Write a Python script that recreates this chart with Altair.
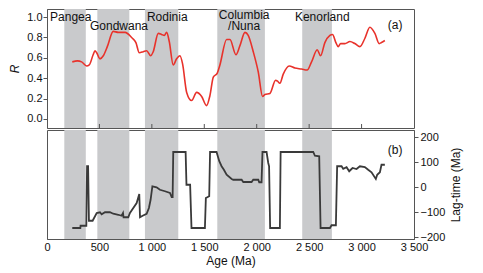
import altair as alt
import pandas as pd

# Supercontinent bands (Ma)
band_names = ["Pangea", "Gondwana", "Rodinia", "Columbia/Nuna", "Kenorland"]
band_start = [165, 480, 934, 1624, 2434]
band_end = [370, 785, 1252, 2078, 2717]

# Panel (a): R
r_age = [241, 290, 330, 378, 403, 440, 458, 474, 505, 537, 575, 632, 680, 744, 807, 848, 880, 918,
         950, 988, 1013, 1061, 1093, 1119, 1141, 1166, 1204, 1236, 1268, 1293, 1332, 1379, 1427,
         1475, 1522, 1554, 1586, 1624, 1649, 1713, 1745, 1802, 1840, 1888, 1919, 1967, 2015, 2056,
         2078, 2126, 2180, 2199, 2221, 2253, 2310, 2364, 2428, 2481, 2523, 2577, 2609, 2650, 2698,
         2723, 2755, 2777, 2800, 2841, 2889, 2936, 2984, 3031, 3079, 3127, 3168, 3190, 3222]
r_val = [0.56, 0.57, 0.56, 0.52, 0.53, 0.63, 0.67, 0.65, 0.59, 0.62, 0.71, 0.86, 0.85, 0.85, 0.80,
         0.75, 0.65, 0.66, 0.67, 0.62, 0.66, 0.84, 0.83, 0.82, 0.85, 0.76, 0.53, 0.59, 0.62, 0.54,
         0.26, 0.18, 0.26, 0.22, 0.13, 0.23, 0.41, 0.45, 0.53, 0.78, 0.78, 0.63, 0.72, 0.85, 0.82,
         0.66, 0.46, 0.22, 0.24, 0.25, 0.38, 0.37, 0.35, 0.44, 0.52, 0.50, 0.49, 0.48, 0.56, 0.68,
         0.62, 0.75, 0.82, 0.83, 0.75, 0.71, 0.74, 0.74, 0.76, 0.74, 0.71, 0.79, 0.90, 0.84, 0.74,
         0.75, 0.77]

# Panel (b): lag-time
lag_age = [241, 318, 320, 375, 382, 392, 400, 435, 474, 505, 521, 553, 600, 632, 680, 712, 725, 730,
           775, 791, 823, 855, 880, 887, 912, 950, 972, 988, 1005, 1045, 1077, 1125, 1173, 1189, 1198,
           1204, 1322, 1330, 1365, 1378, 1506, 1515, 1547, 1555, 1617, 1643, 1665, 1687, 1713, 1761,
           1776, 1856, 1872, 1951, 1967, 2015, 2024, 2046, 2055, 2094, 2110, 2118, 2128, 2221, 2228,
           2539, 2555, 2596, 2609, 2698, 2714, 2755, 2767, 2809, 2825, 2857, 2882, 2914, 2952, 2984,
           3031, 3063, 3095, 3136, 3149, 3175, 3190, 3222]
lag_val = [-164, -164, -155, -155, 83, 83, -135, -135, -104, -101, -109, -101, -101, -107, -111, -115,
           -104, -121, -121, -104, -84, -64, -28, -121, -115, -107, -84, -51, 3, -1, -11, -17, -24,
           -40, -40, 140, 140, 9, 9, -164, -164, -44, -37, 140, 140, 103, 83, 69, 49, 32, 29, 29, 20,
           20, 29, 29, 19, 19, 140, 140, 96, 83, -164, -164, 140, 140, 125, 123, -164, -164, -153,
           -153, 83, 83, 73, 79, 63, 76, 72, 83, 80, 69, 59, 32, 49, 59, 89, 89]

# Annotations (data coordinates)
a_labels = ["Pangea", "Gondwana", "Rodinia", "Kenorland"]
a_x = [29, 410, 953, 2364]
a_y = [1.0, 0.91, 1.0, 1.0]
col_label = "Columbia\n/Nuna"
col_x = 1880
col_y = 1.02

x_ticks = [0, 500, 1000, 1500, 2000, 2500, 3000, 3500]
r_ticks = [0.0, 0.2, 0.4, 0.6, 0.8, 1.0]
lag_ticks = [-200, -100, 0, 100, 200]

bands = pd.DataFrame({"name": band_names, "start": band_start, "end": band_end})
rdf = pd.DataFrame({"age": r_age, "R": r_val})
ldf = pd.DataFrame({"age": lag_age, "lag": lag_val, "i": list(range(len(lag_age)))})
adf = pd.DataFrame({"label": a_labels, "age": a_x, "R": a_y})
cdf = pd.DataFrame({"label": [col_label], "age": [col_x], "R": [col_y]})
tdf = pd.DataFrame({"age": x_ticks[1:-1]})

W = 367
xs = alt.Scale(domain=[0, 3500], nice=False)
ys_a = alt.Scale(domain=[-0.09, 1.08], nice=False)
ys_b = alt.Scale(domain=[-208, 228], nice=False)
BAND = "#c9cacc"
FONT = "Liberation Sans"

AX_YA = alt.Axis(values=r_ticks, format=".1f", title="R", titleFontStyle="italic",
                 tickSize=4, labelPadding=1, titlePadding=5, labelOverlap=False,
                 labelFlush=False)
AX_XB = alt.Axis(values=x_ticks, title="Age (Ma)", ticks=False, labelPadding=2,
                 titlePadding=3, labelOverlap=False, labelFlush=False,
                 labelExpr="replace(format(datum.value, ','), ',', ' ')")
AX_YB = alt.Axis(orient="right", values=lag_ticks, title="Lag-time (Ma)",
                 titleAngle=270, tickSize=4, labelPadding=2, titlePadding=18,
                 labelOverlap=False, labelFlush=False)

band_a = alt.Chart(bands).mark_rect(color=BAND).encode(
    x=alt.X("start:Q", scale=xs, axis=None), x2="end:Q")

line_a = alt.Chart(rdf).mark_line(color="#e8322b", strokeWidth=1.6, interpolate="monotone").encode(
    x=alt.X("age:Q", scale=xs, axis=None),
    y=alt.Y("R:Q", scale=ys_a, axis=AX_YA))

ticks_a = alt.Chart(tdf).mark_rule(color="#555").encode(
    x=alt.X("age:Q", scale=xs, axis=None), y=alt.value(115), y2=alt.value(119))

text_a = alt.Chart(adf).mark_text(align="left", baseline="middle", fontSize=12,
                                  font=FONT, color="#111").encode(
    x=alt.X("age:Q", scale=xs, axis=None), y=alt.Y("R:Q", scale=ys_a, axis=AX_YA), text="label:N")

text_c = alt.Chart(cdf).mark_text(align="center", baseline="middle", fontSize=12, lineHeight=10.5,
                                  lineBreak="\n", font=FONT, color="#111").encode(
    x=alt.X("age:Q", scale=xs, axis=None), y=alt.Y("R:Q", scale=ys_a, axis=AX_YA), text="label:N")

lab_a = alt.Chart(pd.DataFrame({"t": ["(a)"], "age": [3320], "R": [0.92]})).mark_text(
    align="center", baseline="middle", fontSize=12, font=FONT, color="#111").encode(
    x=alt.X("age:Q", scale=xs, axis=None), y=alt.Y("R:Q", scale=ys_a, axis=AX_YA), text="t:N")

panel_a = alt.layer(band_a, line_a, ticks_a, text_a, text_c, lab_a).properties(width=W, height=119)

band_b = alt.Chart(bands).mark_rect(color=BAND).encode(
    x=alt.X("start:Q", scale=xs, axis=AX_XB), x2="end:Q")

line_b = alt.Chart(ldf).mark_line(color="#3a3a3a", strokeWidth=1.8).encode(
    x=alt.X("age:Q", scale=xs, axis=AX_XB),
    y=alt.Y("lag:Q", scale=ys_b, axis=AX_YB),
    order="i:Q")

lab_b = alt.Chart(pd.DataFrame({"t": ["(b)"], "age": [3320], "lag": [149]})).mark_text(
    align="center", baseline="middle", fontSize=12, font=FONT, color="#111").encode(
    x=alt.X("age:Q", scale=xs, axis=AX_XB), y=alt.Y("lag:Q", scale=ys_b, axis=AX_YB), text="t:N")

panel_b = alt.layer(band_b, line_b, lab_b).properties(width=W, height=109)

chart = alt.vconcat(panel_a, panel_b, spacing=0).properties(
    padding={"left": 0, "top": 0, "right": 5, "bottom": 5}
).configure_view(stroke="#555", strokeWidth=1).configure_axis(
    labelFont=FONT, titleFont=FONT, labelFontSize=11, titleFontSize=12,
    labelColor="#111", titleColor="#111", domainColor="#555", tickColor="#555", grid=False,
    titleFontWeight="normal", labelOverlap=False)

chart.save("out.html", embed_options={"renderer": "svg", "actions": False})
